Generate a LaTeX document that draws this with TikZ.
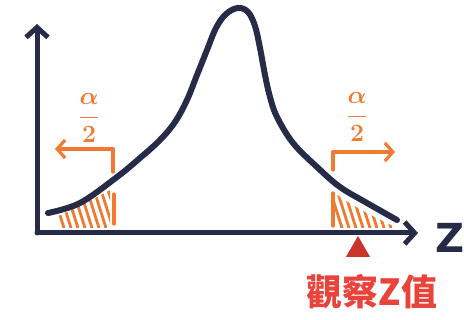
\documentclass[tikz,border=0pt]{standalone}
\usepackage{fontspec}
\newfontfamily\cjk{Noto Sans CJK TC}
\newfontfamily\zfont{DejaVu Sans}
\usetikzlibrary{arrows.meta,shapes.geometric}
\definecolor{ink}{HTML}{262B48}
\definecolor{orng}{HTML}{F07A32}
\definecolor{redt}{HTML}{E8443C}
\definecolor{tri}{HTML}{C8352A}
\tikzset{
  axis/.style={draw=ink, line width=5pt, line cap=round, line join=round},
  curveline/.style={draw=ink, line width=6pt, line cap=round},
  bracket/.style={draw=orng, line width=3.2pt, line cap=round, line join=round},
  hatch/.style={draw=orng, line width=2.8pt, line cap=round},
  barb/.tip={Straight Barb[length=10pt,width=22pt,line width=5pt]},
  obarb/.tip={Straight Barb[length=8pt,width=18pt,line width=3.2pt]},
  fraclab/.style={text=orng, font=\fontsize{30}{34}\selectfont\boldmath}
}
\begin{document}
\begin{tikzpicture}[x=1pt,y=-1pt]
\useasboundingbox (0,0) rectangle (464,320);
\fill[white] (0,0) rectangle (464,320);
% hatching (clipped under the curve)
\begin{scope}
  \clip plot[smooth] coordinates {(50,220) (117,186) (160,150) (187,110) (190,228)} -- (50,228) -- cycle;
  \clip (56,190) rectangle (110,228);
  \foreach \i in {0,...,9} { \path[hatch] (52+\i*7,190) -- (64+\i*7,228); }
\end{scope}
\begin{scope}
  \clip plot[smooth] coordinates {(317,177) (340,197) (367,213) (397,228)} -- (317,228) -- cycle;
  \clip (334,190) rectangle (392,228);
  \foreach \i in {0,...,9} { \path[hatch] (330+\i*7,190) -- (342+\i*7,228); }
\end{scope}
% axes
\coordinate (O) at (37,233);
\coordinate (ytop) at (37,24);
\coordinate (xend) at (418,233);
\path[axis, -barb] (O) -- (ytop);
\path[axis, -barb] (O) -- (xend);
% curve
\path[curveline] plot[smooth, tension=0.6] coordinates {
  (48,213) (80,203) (117,177) (140,158) (160,140) (175,122) (187,100) (197,75) (207,50) (216,28) (226,14) (238,8) (248,12) (255,26) (260,48) (265,75) (270,97) (277,117) (293,143) (317,167) (340,187) (367,203) (397,220)};
% left bracket
\coordinate (la) at (55,149);
\coordinate (lb) at (113,149);
\coordinate (lc) at (113,172);
\coordinate (ld) at (114,194);
\coordinate (le) at (114,224);
\path[bracket, -obarb] (lb) -- (la);
\path[bracket] (lb) -- (lc);
\path[bracket] (ld) -- (le);
% right bracket
\coordinate (ra) at (333,152);
\coordinate (rb) at (395,152);
\coordinate (rc) at (333,170);
\coordinate (rd) at (333,193);
\coordinate (re) at (333,226);
\path[bracket, -obarb] (ra) -- (rb);
\path[bracket] (ra) -- (rc);
\path[bracket] (rd) -- (re);
% alpha/2 labels
\node[fraclab] (lfrac) at (89,118) {$\displaystyle\frac{\alpha}{2}$};
\node[fraclab] (rfrac) at (357,117) {$\displaystyle\frac{\alpha}{2}$};
% Z label
\node[text=ink, font=\fontsize{40}{44}\selectfont\zfont\bfseries, anchor=west, inner sep=0pt] (zlab) at (435,238) {Z};
% observed marker
\node[fill=tri, regular polygon, regular polygon sides=3, inner sep=0pt, minimum size=28pt] (mark) at (358,250) {};
\node[text=redt, font=\fontsize{36}{40}\selectfont\cjk\bfseries] (obs) at (372,292) {觀察Z值};
\end{tikzpicture}
\end{document}
